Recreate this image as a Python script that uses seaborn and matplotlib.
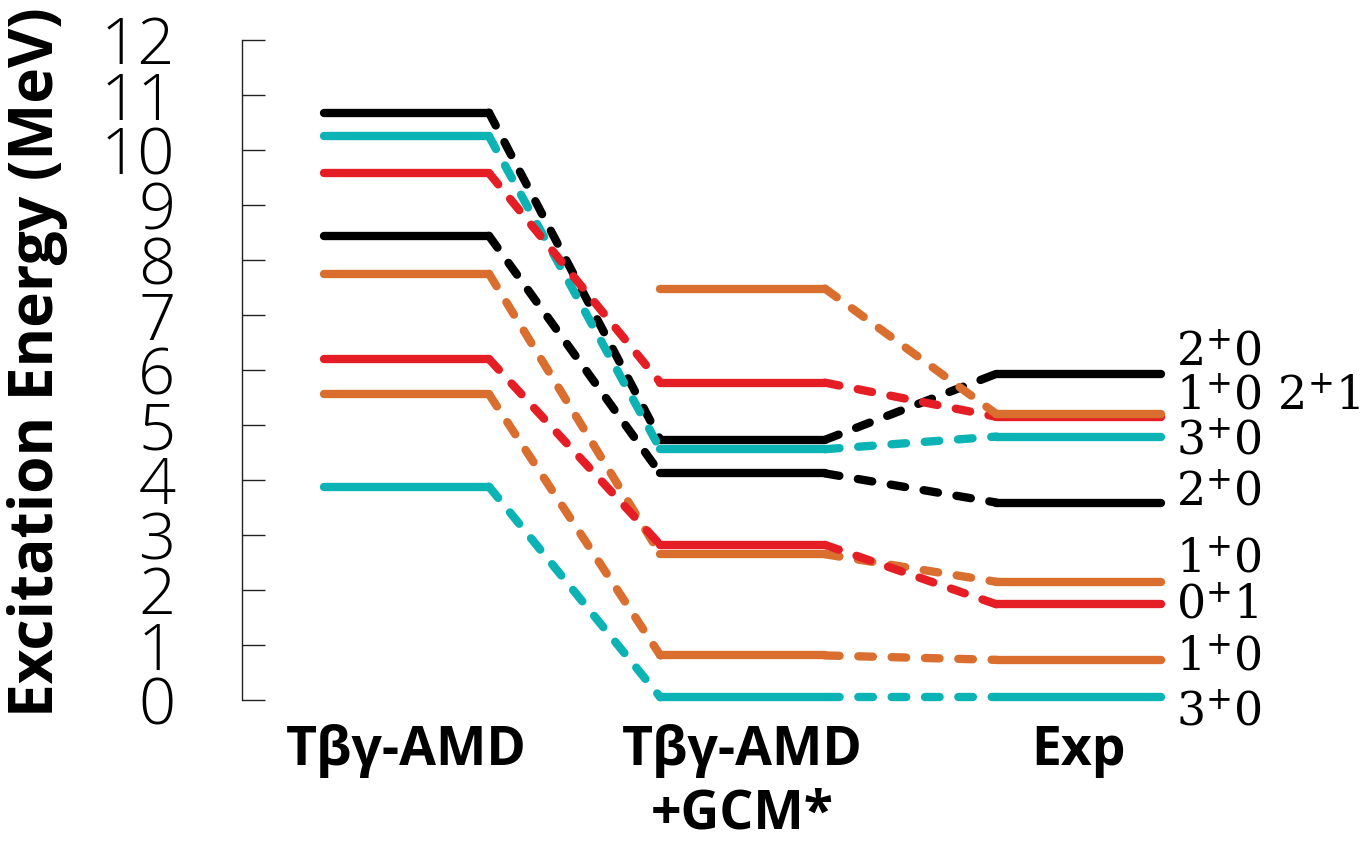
import matplotlib
matplotlib.use("Agg")
import matplotlib.pyplot as plt
import seaborn as sns
import pandas as pd

# Excitation energies (MeV) of each level chain across the three columns
columns = ["Tβγ-AMD", "Tβγ-AMD\n+GCM*", "Exp"]
tbg_amd = [10.68, 10.25, 9.58, 8.44, 7.75, 6.20, 5.56, 3.88, None]
tbg_amd_gcm = [4.73, 4.56, 5.77, 4.12, 2.65, 2.82, 0.81, 0.05, 7.48]
experiment = [5.93, 4.79, 5.15, 3.59, 2.15, 1.74, 0.73, 0.05, 5.20]
chain_colors = ["#000000", "#0BB3B5", "#E41E24", "#000000", "#D96E2E",
                "#E41E24", "#D96E2E", "#0BB3B5", "#D96E2E"]

# Spin-parity / isospin labels of the experimental levels
exp_labels = ["$2^{+}0$", "$1^{+}0\\ 2^{+}1$", "$3^{+}0$", "$2^{+}0$",
              "$1^{+}0$", "$0^{+}1$", "$1^{+}0$", "$3^{+}0$"]
exp_label_y = [6.30, 5.50, 4.68, 3.76, 2.53, 1.70, 0.76, -0.24]

y_ticks = list(range(0, 13))

sns.set_theme(style="white")
plt.rcParams["font.family"] = ["Open Sans", "DejaVu Sans"]
plt.rcParams["mathtext.fontset"] = "dejavuserif"
plt.rcParams["text.color"] = "black"

fig = plt.figure(figsize=(13.69, 8.43), dpi=100)
ax = fig.add_axes([242 / 1369, 143 / 843, 1127 / 1369, 660 / 843])

half = 0.245
lw = 6.0
dash = (0, (1.75, 2.25))

levels = [tbg_amd, tbg_amd_gcm, experiment]
for k, color in enumerate(chain_colors):
    vals = [levels[c][k] for c in range(3)]
    # connectors first, so the level bars sit on top
    for c in range(2):
        if vals[c] is None or vals[c + 1] is None:
            continue
        seg = pd.DataFrame({"x": [c + half, c + 1 - half],
                            "y": [vals[c], vals[c + 1]]})
        sns.lineplot(data=seg, x="x", y="y", ax=ax, color=color, lw=lw,
                     linestyle=dash, dash_capstyle="round",
                     estimator=None, sort=False, clip_on=False)
    for c in range(3):
        if vals[c] is None:
            continue
        seg = pd.DataFrame({"x": [c - half, c + half],
                            "y": [vals[c], vals[c]]})
        sns.lineplot(data=seg, x="x", y="y", ax=ax, color=color, lw=lw,
                     solid_capstyle="round", solid_joinstyle="round",
                     estimator=None, sort=False, clip_on=False)

for txt, yv in zip(exp_labels, exp_label_y):
    ax.text(2.29, yv, txt, ha="left", va="center", fontsize=33,
            color="black", clip_on=False)

ax.set_xlim(-0.49, 2.864)
ax.set_ylim(0, 12)
ax.set_yticks(y_ticks)
ax.set_yticklabels([str(t) for t in y_ticks], fontsize=47,
                   fontweight="light")
ax.tick_params(axis="y", direction="in", length=16.5, width=1.0,
               color="#222222", labelcolor="black", pad=48, left=True)
ax.set_xticks([0, 1, 2])
ax.set_xticklabels(columns, fontsize=38.5, fontweight="bold",
                   linespacing=1.24)
ax.tick_params(axis="x", length=0, pad=17, labelcolor="black")
ax.set_xlabel("")
ax.set_ylabel("")

for side in ["top", "right", "bottom"]:
    ax.spines[side].set_visible(False)
ax.spines["left"].set_color("#222222")
ax.spines["left"].set_linewidth(1.0)

fig.text(38 / 1369, 1 - 362 / 843, "Excitation Energy (MeV)", rotation=90,
         ha="center", va="center", fontsize=43.5, fontweight="bold",
         color="black")

fig.savefig("out.png", dpi=100, facecolor="white")
